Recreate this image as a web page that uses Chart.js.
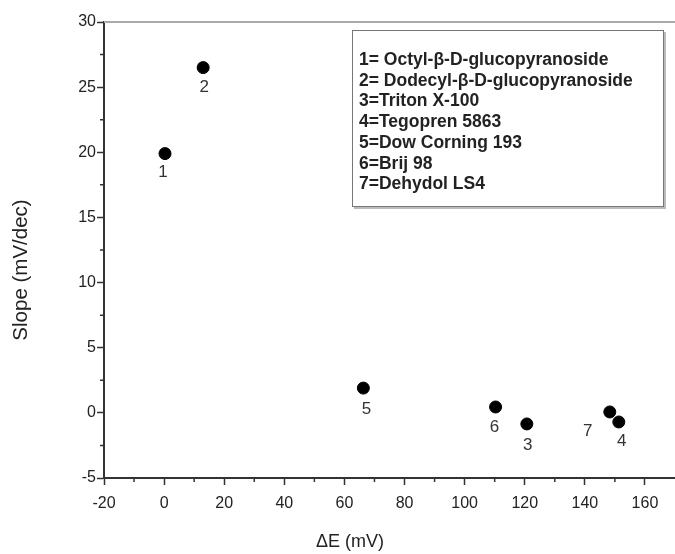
<!DOCTYPE html>
<html>
<head>
<meta charset="utf-8">
<script src="https://cdn.jsdelivr.net/npm/chart.js@4"></script>
<style>
  html, body { margin: 0; padding: 0; background: #fff; }
  #wrap { position: relative; width: 675px; height: 554px; }
  #legendBox {
    position: absolute; left: 352px; top: 30px; width: 304px; height: 157px;
    border: 1px solid #777; box-shadow: 2px 2px 0 #bbb; background: #fff;
    padding: 18px 0 0 6px;
    font: bold 17.5px "Liberation Sans", Arial, sans-serif; line-height: 20.7px; color: #222;
  }
</style>
</head>
<body>
<div id="wrap">
  <canvas id="c" width="675" height="554"></canvas>
  <div id="legendBox"></div>
</div>
<script>
// surfactant key and measured points
const legendLabels = [
  '1= Octyl-β-D-glucopyranoside',
  '2= Dodecyl-β-D-glucopyranoside',
  '3=Triton X-100',
  '4=Tegopren 5863',
  '5=Dow Corning 193',
  '6=Brij 98',
  '7=Dehydol LS4'
];
const pointIds = ['1', '2', '3', '4', '5', '6', '7'];
const deltaE = [0.3, 13, 120.7, 151.3, 66.3, 110.3, 148.3];
const slope  = [19.9, 26.5, -0.85, -0.7, 1.9, 0.45, 0.07];

const xTicks = [-20, 0, 20, 40, 60, 80, 100, 120, 140, 160];
const yTicks = [-5, 0, 5, 10, 15, 20, 25, 30];

// label nudges (px) relative to each point
const labelDx = [-2, 1, 1, 3, 3, -1, -22];
const labelDy = [19, 20, 21, 19, 21, 20, 19];

document.getElementById('legendBox').innerHTML = legendLabels.map(t => '<div>' + t + '</div>').join('');

const tickFont = { family: '"Liberation Sans", Arial, sans-serif', size: 16 };

const extras = {
  id: 'extras',
  afterDraw(chart) {
    const { ctx, chartArea: a, scales: { x, y } } = chart;
    ctx.save();
    // top frame line
    ctx.strokeStyle = '#aaa';
    ctx.lineWidth = 2;
    ctx.beginPath();
    ctx.moveTo(a.left, a.top);
    ctx.lineTo(a.right, a.top);
    ctx.stroke();
    // minor ticks
    ctx.strokeStyle = '#333';
    ctx.lineWidth = 1.5;
    ctx.beginPath();
    for (let i = 0; i < yTicks.length - 1; i++) {
      const py = y.getPixelForValue(yTicks[i] + 2.5);
      ctx.moveTo(a.left - 4, py); ctx.lineTo(a.left, py);
    }
    for (let i = 0; i < xTicks.length - 1; i++) {
      const px = x.getPixelForValue(xTicks[i] + 10);
      ctx.moveTo(px, a.bottom); ctx.lineTo(px, a.bottom + 4);
    }
    ctx.stroke();
    // point numbers
    const meta = chart.getDatasetMeta(0);
    ctx.fillStyle = '#333';
    ctx.font = '17px "Liberation Sans", Arial, sans-serif';
    ctx.textAlign = 'center';
    ctx.textBaseline = 'middle';
    meta.data.forEach((pt, i) => {
      ctx.fillText(pointIds[i], pt.x + labelDx[i], pt.y + labelDy[i]);
    });
    // axis titles
    ctx.fillStyle = '#222';
    ctx.font = '18px "Liberation Sans", Arial, sans-serif';
    ctx.fillText('ΔE (mV)', 350, 542);
    ctx.font = '20.5px "Liberation Sans", Arial, sans-serif';
    ctx.translate(21, 270);
    ctx.rotate(-Math.PI / 2);
    ctx.fillText('Slope (mV/dec)', 0, 0);
    ctx.restore();
  }
};

new Chart(document.getElementById('c'), {
  type: 'scatter',
  data: {
    datasets: [{
      data: deltaE.map((v, i) => ({ x: v, y: slope[i] })),
      backgroundColor: '#000',
      borderColor: '#000',
      pointRadius: 6,
      pointHoverRadius: 6
    }]
  },
  options: {
    responsive: false,
    animation: false,
    layout: { autoPadding: false, padding: { left: 0, top: 22, right: 0, bottom: 0 } },
    plugins: { legend: { display: false }, tooltip: { enabled: false } },
    scales: {
      x: {
        type: 'linear', min: -20, max: 170,
        afterBuildTicks: s => { s.ticks = xTicks.map(v => ({ value: v })); },
        afterFit: s => { s.height = 76; s.paddingLeft = 0; s.paddingRight = 0; },
        ticks: { color: '#222', font: tickFont, padding: 9 },
        grid: { drawOnChartArea: false, drawTicks: true, tickLength: 7, tickColor: '#333', tickWidth: 1.5 },
        border: { color: '#333', width: 2 }
      },
      y: {
        type: 'linear', min: -5, max: 30,
        afterBuildTicks: s => { s.ticks = yTicks.map(v => ({ value: v })); },
        afterFit: s => { s.width = 104; },
        ticks: { color: '#222', font: tickFont, padding: 1 },
        grid: { drawOnChartArea: false, drawTicks: true, tickLength: 7, tickColor: '#333', tickWidth: 1.5 },
        border: { color: '#333', width: 2 }
      }
    }
  },
  plugins: [extras]
});
</script>
</body>
</html>
